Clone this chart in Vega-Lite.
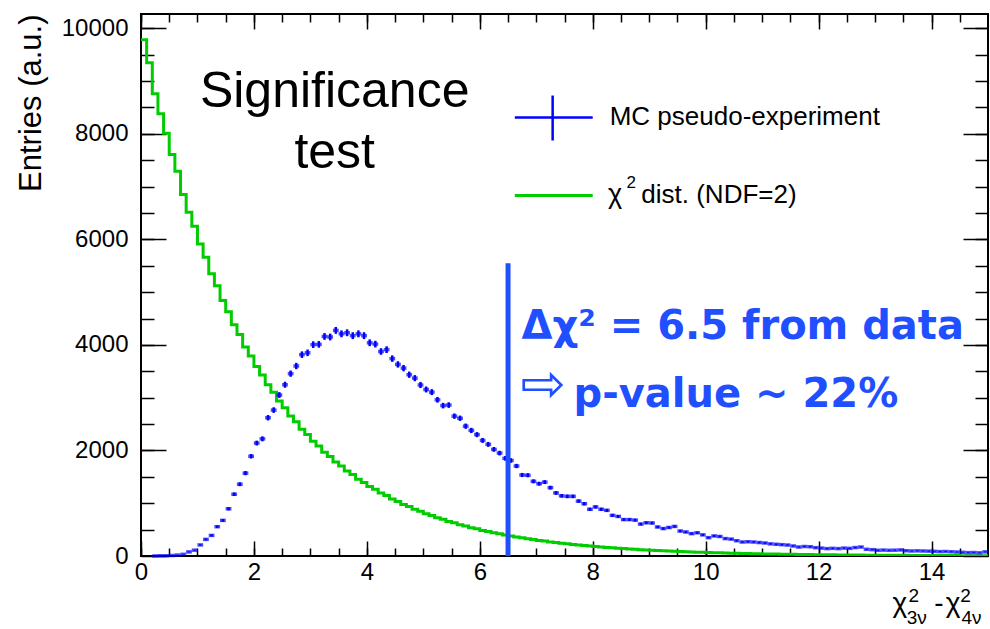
{
  "$schema": "https://vega.github.io/schema/vega-lite/v6.json",
  "width": 847,
  "height": 542,
  "autosize": {"type": "none"},
  "padding": {"left": 141, "top": 14, "right": 2, "bottom": 73},
  "background": "white",
  "config": {
    "view": {"stroke": "black", "strokeWidth": 2},
    "axis": {"grid": false, "domain": false, "tickColor": "black", "tickWidth": 1.5, "labelFont": "Liberation Sans", "labelFontSize": 24, "labelColor": "black", "format": "d"}
  },
  "datasets": {
    "green": [
      {"x":0.0,"n":9780},{"x":0.1,"n":9345},{"x":0.2,"n":8758},{"x":0.3,"n":8379},{"x":0.4,"n":8011},{"x":0.5,"n":7608},{"x":0.6,"n":7292},{"x":0.7,"n":6850},{"x":0.8,"n":6515},{"x":0.9,"n":6250},
      {"x":1.0,"n":5910},{"x":1.1,"n":5660},{"x":1.2,"n":5350},{"x":1.3,"n":5120},{"x":1.4,"n":4840},{"x":1.5,"n":4630},{"x":1.6,"n":4380},{"x":1.7,"n":4195},{"x":1.8,"n":3960},{"x":1.9,"n":3790},
      {"x":2.0,"n":3590},{"x":2.1,"n":3430},{"x":2.2,"n":3245},{"x":2.3,"n":3105},{"x":2.4,"n":2935},{"x":2.5,"n":2810},{"x":2.6,"n":2655},{"x":2.7,"n":2545},{"x":2.8,"n":2400},{"x":2.9,"n":2300},
      {"x":3.0,"n":2175},{"x":3.1,"n":2085},{"x":3.2,"n":1965},{"x":3.3,"n":1885},{"x":3.4,"n":1780},{"x":3.5,"n":1705},{"x":3.6,"n":1610},{"x":3.7,"n":1545},{"x":3.8,"n":1455},{"x":3.9,"n":1395},
      {"x":4.0,"n":1318},{"x":4.1,"n":1265},{"x":4.2,"n":1192},{"x":4.3,"n":1145},{"x":4.4,"n":1080},{"x":4.5,"n":1035},{"x":4.6,"n":976},{"x":4.7,"n":938},{"x":4.8,"n":884},{"x":4.9,"n":848},
      {"x":5.0,"n":800},{"x":5.1,"n":768},{"x":5.2,"n":723},{"x":5.3,"n":694},{"x":5.4,"n":655},{"x":5.5,"n":628},{"x":5.6,"n":592},{"x":5.7,"n":569},{"x":5.8,"n":536},{"x":5.9,"n":515},
      {"x":6.0,"n":485},{"x":6.1,"n":466},{"x":6.2,"n":439},{"x":6.3,"n":421},{"x":6.4,"n":398},{"x":6.5,"n":381},{"x":6.6,"n":360},{"x":6.7,"n":345},{"x":6.8,"n":325},{"x":6.9,"n":312},
      {"x":7.0,"n":294},{"x":7.1,"n":283},{"x":7.2,"n":266},{"x":7.3,"n":256},{"x":7.4,"n":241},{"x":7.5,"n":232},{"x":7.6,"n":218},{"x":7.7,"n":210},{"x":7.8,"n":197},{"x":7.9,"n":190},
      {"x":8.0,"n":178},{"x":8.1,"n":172},{"x":8.2,"n":161},{"x":8.3,"n":155},{"x":8.4,"n":146},{"x":8.5,"n":141},{"x":8.6,"n":132},{"x":8.7,"n":127},{"x":8.8,"n":119},{"x":8.9,"n":115},
      {"x":9.0,"n":108},{"x":9.1,"n":104},{"x":9.2,"n":98},{"x":9.3,"n":95},{"x":9.4,"n":89},{"x":9.5,"n":86},{"x":9.6,"n":80},{"x":9.7,"n":78},{"x":9.8,"n":73},{"x":9.9,"n":70},
      {"x":10.0,"n":66},{"x":10.1,"n":63},{"x":10.2,"n":60},{"x":10.3,"n":57},{"x":10.4,"n":54},{"x":10.5,"n":52},{"x":10.6,"n":49},{"x":10.7,"n":47},{"x":10.8,"n":44},{"x":10.9,"n":42},
      {"x":11.0,"n":40},{"x":11.1,"n":38},{"x":11.2,"n":36},{"x":11.3,"n":35},{"x":11.4,"n":33},{"x":11.5,"n":31},{"x":11.6,"n":30},{"x":11.7,"n":28},{"x":11.8,"n":27},{"x":11.9,"n":25},
      {"x":12.0,"n":24},{"x":12.1,"n":23},{"x":12.2,"n":22},{"x":12.3,"n":21},{"x":12.4,"n":20},{"x":12.5,"n":19},{"x":12.6,"n":18},{"x":12.7,"n":17},{"x":12.8,"n":16},{"x":12.9,"n":16},
      {"x":13.0,"n":15},{"x":13.1,"n":14},{"x":13.2,"n":13},{"x":13.3,"n":13},{"x":13.4,"n":12},{"x":13.5,"n":12},{"x":13.6,"n":11},{"x":13.7,"n":11},{"x":13.8,"n":10},{"x":13.9,"n":10},
      {"x":14.0,"n":9},{"x":14.1,"n":9},{"x":14.2,"n":8},{"x":14.3,"n":8},{"x":14.4,"n":8},{"x":14.5,"n":7},{"x":14.6,"n":7},{"x":14.7,"n":7},{"x":14.8,"n":6},{"x":14.9,"n":6},
      {"x":15.0,"n":6}
    ],
    "mc": [
      {"x":0.25,"n":1,"e":1},{"x":0.35,"n":3,"e":2},{"x":0.45,"n":6,"e":2},{"x":0.55,"n":10,"e":3},{"x":0.65,"n":18,"e":4},{"x":0.75,"n":32,"e":6},{"x":0.85,"n":78,"e":9},{"x":0.95,"n":110,"e":10},
      {"x":1.05,"n":210,"e":14},{"x":1.15,"n":315,"e":18},{"x":1.25,"n":390,"e":20},{"x":1.35,"n":555,"e":24},{"x":1.45,"n":675,"e":26},{"x":1.55,"n":895,"e":30},{"x":1.65,"n":1170,"e":34},{"x":1.75,"n":1360,"e":37},{"x":1.85,"n":1570,"e":40},{"x":1.95,"n":1890,"e":43},
      {"x":2.05,"n":2140,"e":46},{"x":2.15,"n":2220,"e":47},{"x":2.25,"n":2620,"e":51},{"x":2.35,"n":2765,"e":53},{"x":2.45,"n":3050,"e":55},{"x":2.55,"n":3245,"e":57},{"x":2.65,"n":3455,"e":59},{"x":2.75,"n":3600,"e":60},{"x":2.85,"n":3815,"e":62},{"x":2.95,"n":3850,"e":62},
      {"x":3.05,"n":4005,"e":63},{"x":3.15,"n":4010,"e":63},{"x":3.25,"n":4160,"e":64},{"x":3.35,"n":4150,"e":64},{"x":3.45,"n":4275,"e":65},{"x":3.55,"n":4210,"e":65},{"x":3.65,"n":4230,"e":65},{"x":3.75,"n":4175,"e":65},{"x":3.85,"n":4210,"e":65},{"x":3.95,"n":4175,"e":65},
      {"x":4.05,"n":4040,"e":64},{"x":4.15,"n":4015,"e":63},{"x":4.25,"n":3875,"e":62},{"x":4.35,"n":3910,"e":63},{"x":4.45,"n":3740,"e":61},{"x":4.55,"n":3630,"e":60},{"x":4.65,"n":3560,"e":60},{"x":4.75,"n":3435,"e":59},{"x":4.85,"n":3370,"e":58},{"x":4.95,"n":3240,"e":57},
      {"x":5.05,"n":3155,"e":56},{"x":5.15,"n":3105,"e":56},{"x":5.25,"n":2960,"e":54},{"x":5.35,"n":2850,"e":53},{"x":5.45,"n":2860,"e":53},{"x":5.55,"n":2650,"e":51},{"x":5.65,"n":2610,"e":51},{"x":5.75,"n":2460,"e":50},{"x":5.85,"n":2380,"e":49},{"x":5.95,"n":2300,"e":48},
      {"x":6.05,"n":2190,"e":47},{"x":6.15,"n":2115,"e":46},{"x":6.25,"n":2020,"e":45},{"x":6.35,"n":1950,"e":44},{"x":6.45,"n":1850,"e":43},{"x":6.55,"n":1810,"e":43},{"x":6.65,"n":1705,"e":41},{"x":6.75,"n":1535,"e":39},{"x":6.85,"n":1530,"e":39},{"x":6.95,"n":1415,"e":38},
      {"x":7.05,"n":1370,"e":37},{"x":7.15,"n":1400,"e":37},{"x":7.25,"n":1295,"e":36},{"x":7.35,"n":1195,"e":35},{"x":7.45,"n":1140,"e":34},{"x":7.55,"n":1130,"e":34},{"x":7.65,"n":1130,"e":34},{"x":7.75,"n":1040,"e":32},{"x":7.85,"n":990,"e":31},{"x":7.95,"n":885,"e":30},
      {"x":8.05,"n":930,"e":30},{"x":8.15,"n":885,"e":30},{"x":8.25,"n":865,"e":29},{"x":8.35,"n":770,"e":28},{"x":8.45,"n":750,"e":27},{"x":8.55,"n":690,"e":26},{"x":8.65,"n":690,"e":26},{"x":8.75,"n":680,"e":26},{"x":8.85,"n":605,"e":25},{"x":8.95,"n":630,"e":25},
      {"x":9.05,"n":625,"e":25},{"x":9.15,"n":550,"e":23},{"x":9.25,"n":520,"e":23},{"x":9.35,"n":540,"e":23},{"x":9.45,"n":560,"e":24},{"x":9.55,"n":473,"e":22},{"x":9.65,"n":455,"e":21},{"x":9.75,"n":424,"e":21},{"x":9.85,"n":440,"e":21},{"x":9.95,"n":400,"e":20},
      {"x":10.05,"n":348,"e":19},{"x":10.15,"n":380,"e":19},{"x":10.25,"n":370,"e":19},{"x":10.35,"n":330,"e":18},{"x":10.45,"n":320,"e":18},{"x":10.55,"n":290,"e":17},{"x":10.65,"n":265,"e":16},{"x":10.75,"n":270,"e":16},{"x":10.85,"n":265,"e":16},{"x":10.95,"n":255,"e":16},
      {"x":11.05,"n":246,"e":16},{"x":11.15,"n":230,"e":15},{"x":11.25,"n":222,"e":15},{"x":11.35,"n":215,"e":15},{"x":11.45,"n":208,"e":14},{"x":11.55,"n":190,"e":14},{"x":11.65,"n":170,"e":13},{"x":11.75,"n":180,"e":13},{"x":11.85,"n":175,"e":13},{"x":11.95,"n":158,"e":13},
      {"x":12.05,"n":150,"e":12},{"x":12.15,"n":140,"e":12},{"x":12.25,"n":145,"e":12},{"x":12.35,"n":140,"e":12},{"x":12.45,"n":150,"e":12},{"x":12.55,"n":145,"e":12},{"x":12.65,"n":160,"e":13},{"x":12.75,"n":170,"e":13},{"x":12.85,"n":127,"e":11},{"x":12.95,"n":120,"e":11},
      {"x":13.05,"n":108,"e":10},{"x":13.15,"n":112,"e":11},{"x":13.25,"n":108,"e":10},{"x":13.35,"n":110,"e":10},{"x":13.45,"n":115,"e":11},{"x":13.55,"n":100,"e":10},{"x":13.65,"n":95,"e":10},{"x":13.75,"n":98,"e":10},{"x":13.85,"n":95,"e":10},{"x":13.95,"n":92,"e":10},
      {"x":14.05,"n":88,"e":9},{"x":14.15,"n":83,"e":9},{"x":14.25,"n":85,"e":9},{"x":14.35,"n":80,"e":9},{"x":14.45,"n":75,"e":9},{"x":14.55,"n":70,"e":8},{"x":14.65,"n":64,"e":8},{"x":14.75,"n":66,"e":8},{"x":14.85,"n":60,"e":8},{"x":14.95,"n":78,"e":9}
    ]
  },
  "resolve": {"axis": {"x": "independent", "y": "independent"}},
  "layer": [
    {
      "data": {"name": "green"},
      "mark": {"type": "line", "interpolate": "step-after", "color": "#00cc00", "strokeWidth": 3, "clip": true},
      "encoding": {
        "x": {"field": "x", "type": "quantitative", "scale": {"domain": [0, 15], "nice": false, "zero": false},
              "axis": {"orient": "bottom", "values": [0, 2, 4, 6, 8, 10, 12, 14], "tickSize": -15, "labelPadding": 19, "title": null, "labelFlush": false, "labelOverlap": false}},
        "y": {"field": "n", "type": "quantitative", "scale": {"domain": [0, 10270], "nice": false},
              "axis": {"orient": "left", "values": [0, 2000, 4000, 6000, 8000, 10000], "format": "d", "tickSize": -25, "labelPadding": 38, "labelFlush": false, "labelOverlap": false,
                       "title": "Entries (a.u.)", "titleFont": "Liberation Sans", "titleFontSize": 31, "titleFontWeight": "normal", "titleColor": "black",
                       "titleAngle": -90, "titleX": -110, "titleY": 0, "titleAlign": "right", "titleBaseline": "middle"}}
      }
    },
    {
      "data": {"name": "mc"},
      "mark": {"type": "tick", "orient": "horizontal", "color": "#0000ff", "size": 5.8, "thickness": 3.5},
      "encoding": {
        "x": {"field": "x", "type": "quantitative",
              "axis": {"orient": "bottom", "values": [0,0.5,1,1.5,2,2.5,3,3.5,4,4.5,5,5.5,6,6.5,7,7.5,8,8.5,9,9.5,10,10.5,11,11.5,12,12.5,13,13.5,14,14.5], "tickSize": -8, "labels": false, "title": null}},
        "y": {"field": "n", "type": "quantitative",
              "axis": {"orient": "left", "values": [500,1000,1500,2000,2500,3000,3500,4000,4500,5000,5500,6000,6500,7000,7500,8000,8500,9000,9500,10000], "tickSize": -13, "labels": false, "title": null}}
      }
    },
    {
      "data": {"name": "mc"},
      "mark": {"type": "errorbar", "color": "#0000ff", "thickness": 2.5},
      "encoding": {
        "x": {"field": "x", "type": "quantitative",
              "axis": {"orient": "top", "values": [0, 2, 4, 6, 8, 10, 12, 14], "tickSize": -15, "labels": false, "title": null}},
        "y": {"field": "n", "type": "quantitative",
              "axis": {"orient": "right", "values": [0, 2000, 4000, 6000, 8000, 10000], "tickSize": -25, "labels": false, "title": null}},
        "yError": {"field": "e"}
      }
    },
    {
      "data": {"values": [{}]},
      "mark": {"type": "rule", "color": "#1f4fff", "strokeWidth": 5},
      "encoding": {
        "x": {"datum": 6.5, "type": "quantitative",
              "axis": {"orient": "top", "values": [0,0.5,1,1.5,2,2.5,3,3.5,4,4.5,5,5.5,6,6.5,7,7.5,8,8.5,9,9.5,10,10.5,11,11.5,12,12.5,13,13.5,14,14.5], "tickSize": -8, "labels": false, "title": null}},
        "y": {"datum": 0, "type": "quantitative",
              "axis": {"orient": "right", "values": [500,1000,1500,2000,2500,3000,3500,4000,4500,5000,5500,6000,6500,7000,7500,8000,8500,9000,9500,10000], "tickSize": -13, "labels": false, "title": null}},
        "y2": {"datum": 5545}
      }
    },
    {
      "data": {"values": [{}]},
      "mark": {"type": "rule", "color": "#0000ff", "strokeWidth": 2.5},
      "encoding": {"x": {"datum": 6.62, "type": "quantitative", "axis": null}, "x2": {"datum": 8.0}, "y": {"datum": 8310, "type": "quantitative", "axis": null}}
    },
    {
      "data": {"values": [{}]},
      "mark": {"type": "rule", "color": "#0000ff", "strokeWidth": 2.5},
      "encoding": {"x": {"datum": 7.29, "type": "quantitative", "axis": null}, "y": {"datum": 7873, "type": "quantitative", "axis": null}, "y2": {"datum": 8725}}
    },
    {
      "data": {"values": [{}]},
      "mark": {"type": "rule", "color": "#00cc00", "strokeWidth": 3},
      "encoding": {"x": {"datum": 6.62, "type": "quantitative", "axis": null}, "x2": {"datum": 8.0}, "y": {"datum": 6832, "type": "quantitative", "axis": null}}
    },
    {
      "data": {"values": [{}]},
      "mark": {"type": "text", "text": "MC pseudo-experiment", "font": "Liberation Sans", "fontSize": 26, "align": "left", "baseline": "middle", "color": "black"},
      "encoding": {"x": {"datum": 8.3, "type": "quantitative", "axis": null}, "y": {"datum": 8310, "type": "quantitative", "axis": null}}
    },
    {
      "data": {"values": [{}]},
      "mark": {"type": "text", "text": "χ", "font": "Liberation Sans", "fontSize": 27, "align": "left", "baseline": "middle", "color": "black"},
      "encoding": {"x": {"datum": 8.27, "type": "quantitative", "axis": null}, "y": {"datum": 6832, "type": "quantitative", "axis": null}}
    },
    {
      "data": {"values": [{}]},
      "mark": {"type": "text", "text": "2", "font": "Liberation Sans", "fontSize": 17, "align": "left", "baseline": "middle", "color": "black"},
      "encoding": {"x": {"datum": 8.6, "type": "quantitative", "axis": null}, "y": {"datum": 7060, "type": "quantitative", "axis": null}}
    },
    {
      "data": {"values": [{}]},
      "mark": {"type": "text", "text": "dist. (NDF=2)", "font": "Liberation Sans", "fontSize": 26, "align": "left", "baseline": "middle", "color": "black"},
      "encoding": {"x": {"datum": 8.86, "type": "quantitative", "axis": null}, "y": {"datum": 6832, "type": "quantitative", "axis": null}}
    },
    {
      "data": {"values": [{}]},
      "mark": {"type": "text", "text": "Significance", "font": "Liberation Sans", "fontSize": 50, "align": "center", "baseline": "alphabetic", "color": "black"},
      "encoding": {"x": {"datum": 3.43, "type": "quantitative", "axis": null}, "y": {"datum": 8508, "type": "quantitative", "axis": null}}
    },
    {
      "data": {"values": [{}]},
      "mark": {"type": "text", "text": "test", "font": "Liberation Sans", "fontSize": 50, "align": "center", "baseline": "alphabetic", "color": "black"},
      "encoding": {"x": {"datum": 3.43, "type": "quantitative", "axis": null}, "y": {"datum": 7353, "type": "quantitative", "axis": null}}
    },
    {
      "data": {"values": [{}]},
      "mark": {"type": "text", "text": "Δχ² = 6.5 from data", "font": "DejaVu Sans", "fontWeight": "bold", "fontSize": 40, "align": "left", "baseline": "alphabetic", "color": "#1f4fff"},
      "encoding": {"x": {"datum": 6.74, "type": "quantitative", "axis": null}, "y": {"datum": 4103, "type": "quantitative", "axis": null}}
    },
    {
      "data": {"values": [{}]},
      "mark": {"type": "text", "text": "⇨", "font": "DejaVu Sans", "fontSize": 54, "align": "left", "baseline": "alphabetic", "color": "#1f4fff"},
      "encoding": {"x": {"datum": 6.72, "type": "quantitative", "axis": null}, "y": {"datum": 2920, "type": "quantitative", "axis": null}}
    },
    {
      "data": {"values": [{}]},
      "mark": {"type": "text", "text": "p-value ~ 22%", "font": "DejaVu Sans", "fontWeight": "bold", "fontSize": 40, "align": "left", "baseline": "alphabetic", "color": "#1f4fff"},
      "encoding": {"x": {"datum": 7.66, "type": "quantitative", "axis": null}, "y": {"datum": 2814, "type": "quantitative", "axis": null}}
    },
    {
      "data": {"values": [{"t": "χ", "px": 13.31, "py": -1061}, {"t": "-", "px": 14.05, "py": -1061}, {"t": "χ", "px": 14.25, "py": -1061}]},
      "mark": {"type": "text", "font": "Liberation Sans", "fontSize": 28, "align": "left", "baseline": "alphabetic", "color": "black"},
      "encoding": {"x": {"field": "px", "type": "quantitative", "axis": null}, "y": {"field": "py", "type": "quantitative", "axis": null}, "text": {"field": "t"}}
    },
    {
      "data": {"values": [{"t": "2", "px": 13.59, "py": -872}, {"t": "3ν", "px": 13.56, "py": -1280}, {"t": "2", "px": 14.51, "py": -872}, {"t": "4ν", "px": 14.53, "py": -1280}]},
      "mark": {"type": "text", "font": "Liberation Sans", "fontSize": 19, "align": "left", "baseline": "alphabetic", "color": "black"},
      "encoding": {"x": {"field": "px", "type": "quantitative", "axis": null}, "y": {"field": "py", "type": "quantitative", "axis": null}, "text": {"field": "t"}}
    }
  ]
}
